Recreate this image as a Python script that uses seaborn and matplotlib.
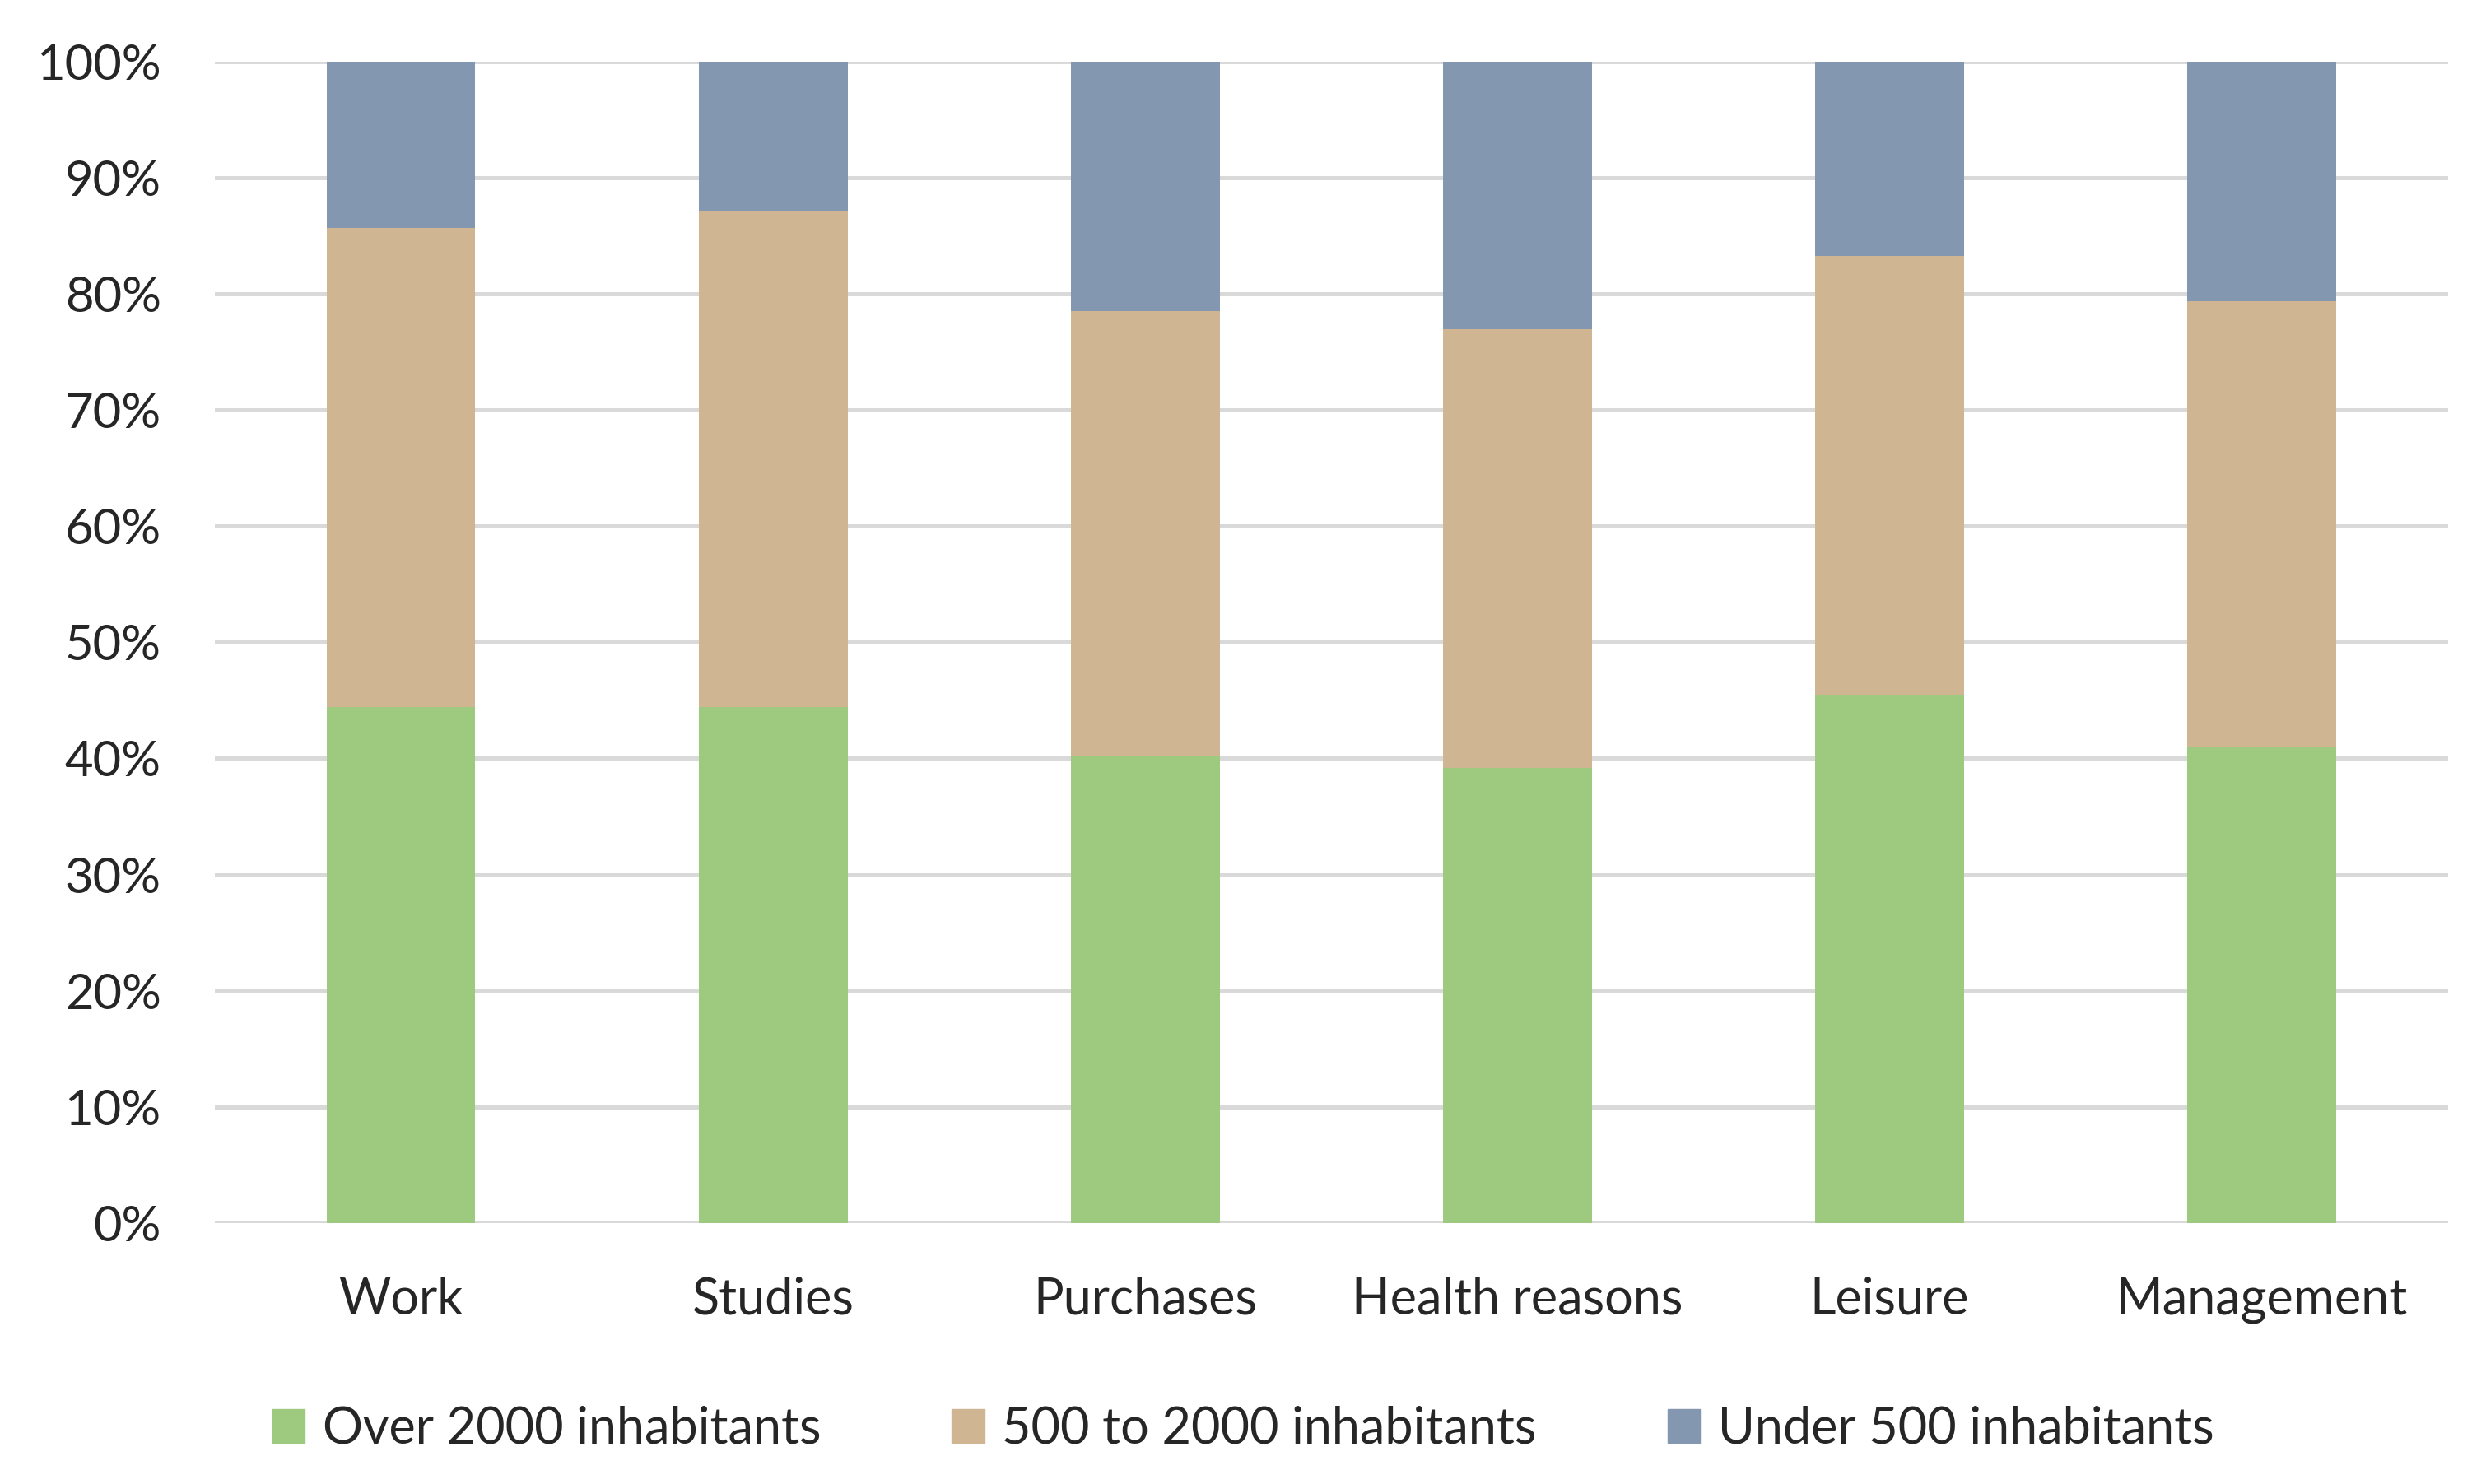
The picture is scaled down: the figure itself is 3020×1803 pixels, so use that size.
import matplotlib
matplotlib.use("Agg")
import matplotlib.pyplot as plt
import matplotlib.patches as mpatches
import numpy as np
import pandas as pd
import seaborn as sns

categories = ["Work", "Studies", "Purchases", "Health reasons", "Leisure", "Management"]
over_2000 = [44.4, 44.4, 40.2, 39.2, 45.5, 41.0]
from_500_to_2000 = [41.3, 42.8, 38.3, 37.8, 37.8, 38.4]
under_500 = [14.3, 12.8, 21.5, 23.0, 16.7, 20.6]
series_names = ["Over 2000 inhabitants", "500 to 2000 inhabitants", "Under 500 inhabitants"]
series_colors = ["#9DCA7E", "#CFB592", "#8497B0"]

df = pd.DataFrame({
    "category": categories,
    "over": over_2000,
    "mid": from_500_to_2000,
    "under": under_500,
})
df["cum_over"] = df["over"]
df["cum_mid"] = df["over"] + df["mid"]
df["cum_under"] = df["cum_mid"] + df["under"]

sns.set_style("white")
plt.rcParams["font.family"] = ["Lato", "DejaVu Sans"]

fig = plt.figure(figsize=(30.2, 18.03), dpi=100)
ax = fig.add_axes([0.0864, 0.176, 0.8983, 0.7823])

# draw from top segment down so lower segments cover the upper ones
for col, color in zip(["cum_under", "cum_mid", "cum_over"], series_colors[::-1]):
    sns.barplot(data=df, x="category", y=col, color=color, width=0.4,
                saturation=1, ax=ax, zorder=3, linewidth=0)

ax.set_ylim(0, 100)
ax.set_xlim(-0.5, len(categories) - 0.5)
ax.set_yticks(np.arange(0, 101, 10))
ax.set_yticklabels([f"{v}%" for v in range(0, 101, 10)])
ax.yaxis.grid(True, color="#D9D9D9", linewidth=3.6, zorder=0)
ax.xaxis.grid(False)
ax.set_axisbelow(True)
for s in ax.spines.values():
    s.set_visible(False)
ax.set_xlabel("")
ax.set_ylabel("")
ax.tick_params(axis="y", length=0, pad=47, labelsize=43)
ax.tick_params(axis="x", length=0, pad=47, labelsize=44)

handles = [mpatches.Patch(color=c, label=n) for c, n in zip(series_colors, series_names)]
fig.legend(handles=handles, loc="center", bbox_to_anchor=(0.5, 0.037), ncol=3,
           frameon=False, fontsize=44, handlelength=0.65, handleheight=0.65,
           handletextpad=0.35, columnspacing=2.6)

fig.savefig("out.png", dpi=100)
